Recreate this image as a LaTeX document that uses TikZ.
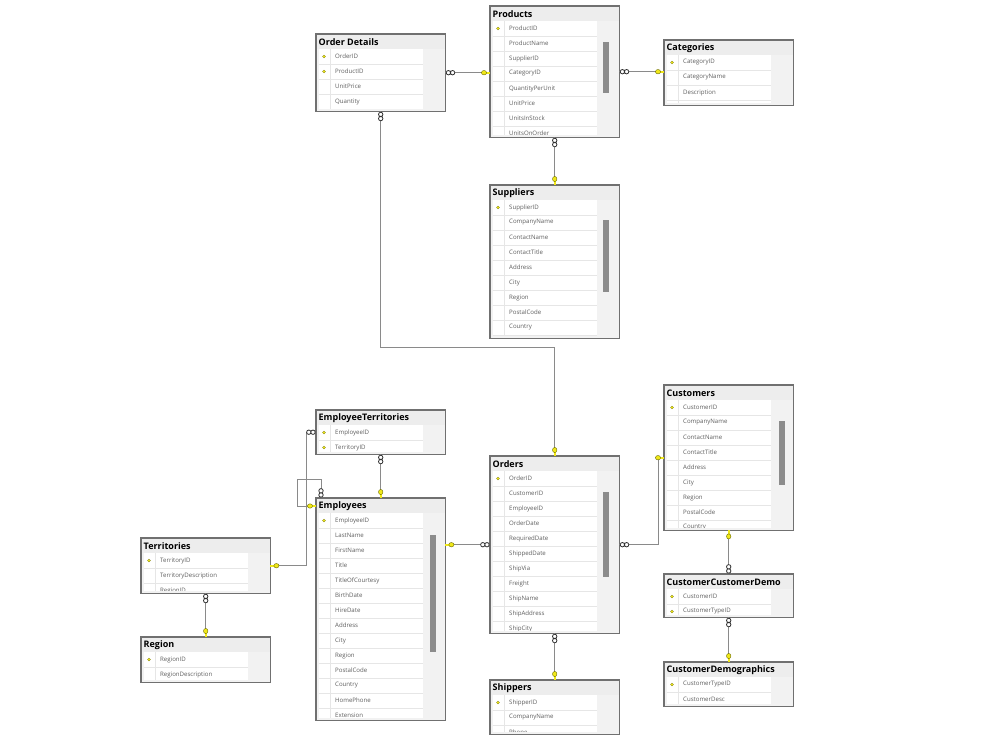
\documentclass[tikz,border=0pt]{standalone}
\usepackage{fontspec}
\setmainfont{Open Sans}
\usetikzlibrary{calc}

\definecolor{framegray}{HTML}{707070}
\definecolor{headgray}{HTML}{EDEDED}
\definecolor{panelgray}{HTML}{F2F2F2}
\definecolor{rowgray}{HTML}{E6E6E6}
\definecolor{fieldtext}{HTML}{5E5E5E}
\definecolor{keyyellow}{HTML}{F0E81A}
\definecolor{keyolive}{HTML}{6A6A00}
\definecolor{linkgray}{HTML}{8A8A8A}
\definecolor{endgray}{HTML}{333333}
\definecolor{scrollgray}{HTML}{8C8C8C}

% one table of the diagram: name, left, top, height, title, number of key fields, fields
\newcommand{\dbtable}[7]{%
  \node[dbbox, minimum height=#4pt, anchor=north west] (#1) at (#2,#3) {};
  \fill[headgray] ([shift={(0.7,0.7)}]#1.north west) rectangle ([shift={(-0.7,15)}]#1.north east);
  \node[dbtitle] (#1-title) at ([shift={(2.5,8)}]#1.north west) {#5};
  \begin{scope}
    \clip ([shift={(2.5,15)}]#1.north west) rectangle ([shift={(-22,-2.5)}]#1.south east);
    \fill[white] ([shift={(2.5,15)}]#1.north west) rectangle ([shift={(-22,-2.5)}]#1.south east);
    \draw[rowline] ([shift={(14,15)}]#1.north west) -- ([shift={(14,0)}]#1.south west);
    \foreach \f [count=\i] in {#7} {
      \draw[rowline] ([shift={(2.5,{15*\i+15})}]#1.north west) -- ([shift={(-22,{15*\i+15})}]#1.north east);
      \node[dbfield] (#1-\i) at ([shift={(19,{15*\i+7.5})}]#1.north west) {\f};
      \ifnum\i>#6\relax\else
        \fill[keyyellow, draw=keyolive, line width=0.3pt] ([shift={(8,{15*\i+7.5})}]#1.north west) circle (1.5);
      \fi
    }
  \end{scope}
  \draw[dbframe] (#1.north west) rectangle (#1.south east);
}

\begin{document}
\begin{tikzpicture}[x=1pt, y=-1pt,
  dbbox/.style={rectangle, fill=panelgray, minimum width=129pt, inner sep=0pt},
  dbframe/.style={draw=framegray, line width=1.3pt},
  dbtitle/.style={anchor=west, inner sep=0pt, font=\bfseries\fontsize{9}{10}\selectfont},
  dbfield/.style={anchor=west, inner sep=0pt, text=fieldtext, font=\fontsize{6.1}{7}\selectfont},
  rowline/.style={draw=rowgray, line width=0.5pt},
  link/.style={draw=linkgray, line width=0.7pt},
  manyend/.pic={\draw[endgray, fill=white, line width=0.8pt] (3,0) circle (2.2) (7.2,0) circle (2.2);},
  keyend/.pic={\draw[keyyellow, line width=1.8pt] (0,0) -- (4,0);
    \fill[keyyellow, draw=keyolive, line width=0.4pt] (6,0) ellipse (2.6 and 2.2);}
]
  \useasboundingbox[fill=white] (0,0) rectangle (1000,750);

  \dbtable{od}{316}{34}{77}{Order Details}{2}{OrderID,ProductID,UnitPrice,Quantity}
  \dbtable{prod}{490}{6}{131}{Products}{1}{ProductID,ProductName,SupplierID,CategoryID,QuantityPerUnit,UnitPrice,UnitsInStock,UnitsOnOrder}
  \dbtable{cat}{664}{40}{65}{Categories}{1}{CategoryID,CategoryName,Description}
  \dbtable{sup}{490}{185}{153}{Suppliers}{1}{SupplierID,CompanyName,ContactName,ContactTitle,Address,City,Region,PostalCode,Country}
  \dbtable{et}{316}{410}{44}{EmployeeTerritories}{2}{EmployeeID,TerritoryID}
  \dbtable{emp}{316}{498}{222}{Employees}{1}{EmployeeID,LastName,FirstName,Title,TitleOfCourtesy,BirthDate,HireDate,Address,City,Region,PostalCode,Country,HomePhone,Extension}
  \dbtable{ter}{141}{538}{55}{Territories}{1}{TerritoryID,TerritoryDescription,RegionID}
  \dbtable{reg}{141}{637}{45}{Region}{1}{RegionID,RegionDescription}
  \dbtable{ord}{490}{456}{177}{Orders}{1}{OrderID,CustomerID,EmployeeID,OrderDate,RequiredDate,ShippedDate,ShipVia,Freight,ShipName,ShipAddress,ShipCity}
  \dbtable{cust}{664}{385}{145}{Customers}{1}{CustomerID,CompanyName,ContactName,ContactTitle,Address,City,Region,PostalCode,Country}
  \dbtable{ccd}{664}{574}{43}{CustomerCustomerDemo}{2}{CustomerID,CustomerTypeID}
  \dbtable{cd}{664}{662}{44}{CustomerDemographics}{1}{CustomerTypeID,CustomerDesc}
  \dbtable{ship}{490}{680}{54}{Shippers}{1}{ShipperID,CompanyName,Phone}

  % scroll bars
  \foreach \t/\sx/\sa/\sb in {prod/113/36/87, sup/113/35/107, ord/113/36/121, cust/115/36/100, emp/114/37/154}
    \fill[scrollgray] ([shift={(\sx,\sa)}]\t.north west) rectangle ([shift={({\sx+6},\sb)}]\t.north west);

  % relationships
  \draw[link] (od.east) -- (od.east -| prod.west);
  \draw[link] (prod.east) -- (prod.east -| cat.west);
  \draw[link] (prod.south) -- (sup.north);
  \draw[link] (od.south) -- ++(0,236) -| (ord.north);
  \draw[link] (et.south) -- (emp.north);
  \draw[link] ([shift={(5,0)}]emp.north west) -- ++(0,-19) -- ++(-24,0) -- ++(0,27) -- ([shift={(0,8)}]emp.north west);
  \draw[link] (et.west) -- ++(-10,0) |- (ter.east);
  \draw[link] (ter.south) -- (reg.north);
  \draw[link] (ord.west) -- (ord.west -| emp.east);
  \draw[link] (ord.east) -- ++(39,0) |- (cust.west);
  \draw[link] (cust.south) -- (ccd.north);
  \draw[link] (ccd.south) -- (cd.north);
  \draw[link] (ord.south) -- (ship.north);

  % many ends
  \foreach \p/\r in {od.east/0, prod.east/0, prod.south/-90, od.south/-90, et.south/-90,
      et.west/180, ter.south/-90, ord.west/180, ord.east/0, ccd.north/90, ccd.south/-90, ord.south/-90}
    \pic[rotate=\r] at (\p) {manyend};
  \pic[rotate=90] at ([shift={(5,0)}]emp.north west) {manyend};

  % key ends
  \pic[rotate=180] at (od.east -| prod.west) {keyend};
  \pic[rotate=180] at (prod.east -| cat.west) {keyend};
  \pic[rotate=90] at (sup.north) {keyend};
  \pic[rotate=90] at (ord.north) {keyend};
  \pic[rotate=90] at (emp.north) {keyend};
  \pic[rotate=180] at ([shift={(0,8)}]emp.north west) {keyend};
  \pic[rotate=0] at (ter.east) {keyend};
  \pic[rotate=90] at (reg.north) {keyend};
  \pic[rotate=0] at (ord.west -| emp.east) {keyend};
  \pic[rotate=180] at (cust.west) {keyend};
  \pic[rotate=-90] at (cust.south) {keyend};
  \pic[rotate=90] at (cd.north) {keyend};
  \pic[rotate=90] at (ship.north) {keyend};
\end{tikzpicture}
\end{document}
